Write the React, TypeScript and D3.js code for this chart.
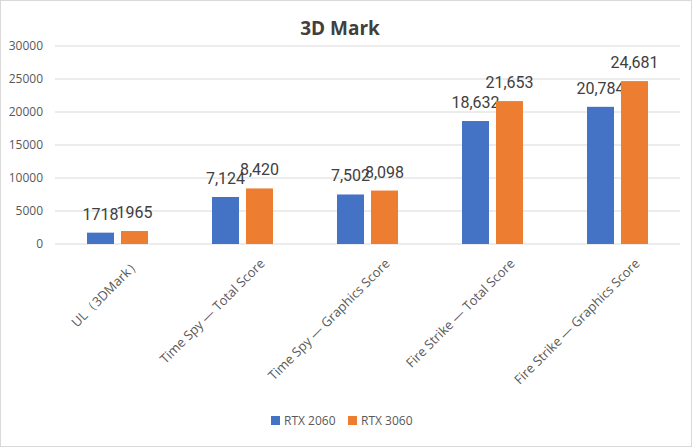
import React from "react";
import * as d3 from "d3";

const categories = [
  "UL（3DMark）",
  "Time Spy — Total Score",
  "Time Spy — Graphics Score",
  "Fire Strike — Total Score",
  "Fire Strike — Graphics Score",
];
const seriesNames = ["RTX 2060", "RTX 3060"];
const rtx2060 = [1718, 7124, 7502, 18632, 20784];
const rtx3060 = [1965, 8420, 8098, 21653, 24681];
const valueLabels2060 = ["1718", "7,124", "7,502", "18,632", "20,784"];
const valueLabels3060 = ["1965", "8,420", "8,098", "21,653", "24,681"];
const yTicks = [0, 5000, 10000, 15000, 20000, 25000, 30000];
const colors = ["#4472C4", "#ED7D31"];

const W = 692;
const H = 448;
const margin = { top: 46, right: 12, bottom: 204, left: 55 };

export default function App() {
  const x = d3
    .scaleBand<string>()
    .domain(categories)
    .range([margin.left, W - margin.right])
    .paddingInner(0)
    .paddingOuter(0);
  const y = d3.scaleLinear().domain([0, 30000]).range([H - margin.bottom, margin.top]);

  const barW = 27;
  const gap = 7;
  const offsets = [-(barW + gap) / 2, (barW + gap) / 2];
  const series = [
    { values: rtx2060, labels: valueLabels2060 },
    { values: rtx3060, labels: valueLabels3060 },
  ];
  const font = "'Open Sans', 'Noto Sans', sans-serif";

  return (
    <div style={{ position: "absolute", left: 0, top: 0 }}>
      <svg width={W} height={H} style={{ display: "block", background: "#fff" }}>
        <rect x={0.5} y={0.5} width={W - 1} height={H - 2} fill="#fff" stroke="#d9d9d9" />
        <text
          x={340}
          y={35}
          textAnchor="middle"
          fontFamily={font}
          fontWeight="bold"
          fontSize={19}
          fill="#404040"
        >
          3D Mark
        </text>

        {/* gridlines + y ticks */}
        {yTicks.map((t) => (
          <g key={t}>
            <line x1={margin.left} x2={W - margin.right} y1={y(t)} y2={y(t)} stroke="#d9d9d9" />
            <text
              x={43}
              y={y(t)}
              dy="0.35em"
              textAnchor="end"
              fontFamily={font}
              fontSize={12}
              fill="#595959"
            >
              {t}
            </text>
          </g>
        ))}

        {/* bars */}
        {series.map((s, si) =>
          categories.map((c, i) => {
            const cx = (x(c) as number) + x.bandwidth() / 2 + offsets[si];
            return (
              <g key={c + si}>
                <rect
                  x={cx - barW / 2}
                  y={y(s.values[i])}
                  width={barW}
                  height={y(0) - y(s.values[i])}
                  fill={colors[si]}
                />
                <text
                  x={cx}
                  y={y(s.values[i]) - 13}
                  textAnchor="middle"
                  fontFamily="Roboto, sans-serif"
                  fontSize={16}
                  fill="#404040"
                >
                  {s.labels[i]}
                </text>
              </g>
            );
          })
        )}

        {/* category labels */}
        {categories.map((c) => {
          const cx = (x(c) as number) + x.bandwidth() / 2;
          return (
            <text
              key={c}
              transform={`translate(${cx + 20},${y(0) + 17}) rotate(-45)`}
              textAnchor="end"
              dy="0.35em"
              fontFamily={font}
              fontSize={13}
              fill="#595959"
            >
              {c}
            </text>
          );
        })}

        {/* legend */}
        {seriesNames.map((n, i) => {
          const lx = i === 0 ? 271 : 348;
          return (
            <g key={n} transform={`translate(${lx},416)`}>
              <rect width={9} height={9} fill={colors[i]} />
              <text x={13} y={9} fontFamily={font} fontSize={12} fill="#595959">
                {n}
              </text>
            </g>
          );
        })}
      </svg>
    </div>
  );
}
